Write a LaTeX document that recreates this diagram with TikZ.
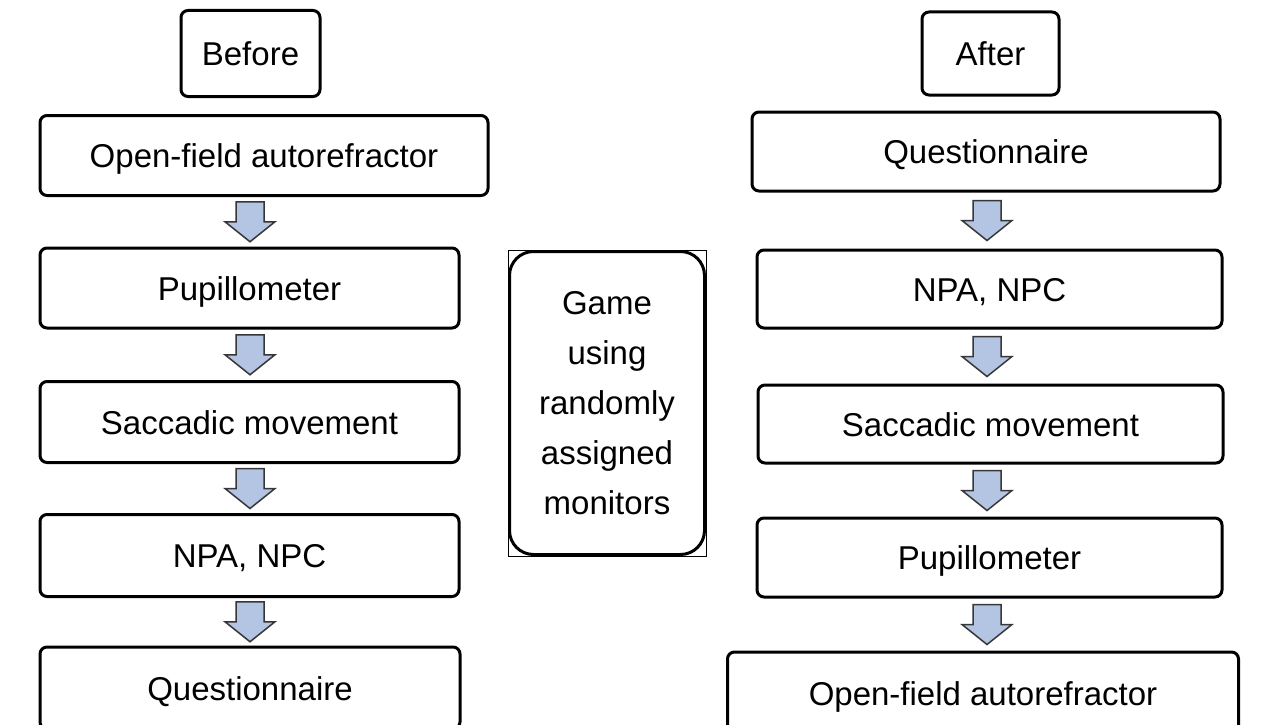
\documentclass[tikz,border=0pt]{standalone}
\usepackage{fontspec}
\setmainfont{Liberation Sans}
\usetikzlibrary{calc}
\definecolor{arrowfill}{RGB}{180,197,228}
\definecolor{arrowline}{RGB}{55,55,55}
\newcommand{\flowarrow}[3]{%
  \path (#1.south) -- (#2.north) coordinate[pos=0.5] (#1-#2-m);
  \draw[barrow, shift={(#1-#2-m -| #3)}] (-14,-20) -- (14,-20) -- (14,0) -- (25,0) -- (0,20) -- (-25,0) -- (-14,0) -- cycle;}
\begin{document}
\begin{tikzpicture}[x=1pt,y=-1pt,
  framebox/.style={draw=black, line width=3pt, rounded corners=7pt, fill=white, inner sep=0pt},
  box/.style={framebox, font=\fontsize{33}{40}\selectfont, text height=24pt, text depth=0pt},
  barrow/.style={draw=arrowline, line width=1.5pt, fill=arrowfill, line join=miter}]
\useasboundingbox (0,0) rectangle (1261,725);
\clip (0,0) rectangle (1261,725);
\coordinate (lcol) at (250,0);
\coordinate (rcol) at (987,0);
% left column
\node[box, minimum width=139pt, minimum height=86pt] (before) at (250.5,53.5) {Before};
\node[box, minimum width=448pt, minimum height=80pt] (lof) at (264,155.5) {Open-field autorefractor};
\node[box, minimum width=419pt, minimum height=80pt] (lpup) at (249.5,288) {Pupillometer};
\node[box, minimum width=419pt, minimum height=81pt] (lsac) at (249.5,422) {Saccadic movement};
\node[box, minimum width=419pt, minimum height=82pt] (lnpa) at (249.5,555.5) {NPA, NPC};
\node[box, minimum width=420pt, minimum height=82pt] (lq) at (250,688) {Questionnaire};
% right column
\node[box, minimum width=137pt, minimum height=83pt] (after) at (990.5,53.5) {After};
\node[box, minimum width=468pt, minimum height=79pt] (rq) at (986,151.5) {Questionnaire};
\node[box, minimum width=465pt, minimum height=78pt] (rnpa) at (989.5,289) {NPA, NPC};
\node[box, minimum width=465pt, minimum height=78pt] (rsac) at (990.5,424) {Saccadic movement};
\node[box, minimum width=465pt, minimum height=79pt] (rpup) at (989.5,557.5) {Pupillometer};
\node[box, minimum width=511pt, minimum height=82pt] (rof) at (983,693) {Open-field autorefractor};
% middle
\draw[line width=0.8pt] (508,250) rectangle (706,556);
\node[framebox, rounded corners=24pt, minimum width=195pt, minimum height=303pt, align=center,
  font=\fontsize{33}{50}\selectfont] (game) at (607,403) {Game\\using\\randomly\\assigned\\monitors};
% arrows
\flowarrow{lof}{lpup}{lcol}
\flowarrow{lpup}{lsac}{lcol}
\flowarrow{lsac}{lnpa}{lcol}
\flowarrow{lnpa}{lq}{lcol}
\flowarrow{rq}{rnpa}{rcol}
\flowarrow{rnpa}{rsac}{rcol}
\flowarrow{rsac}{rpup}{rcol}
\flowarrow{rpup}{rof}{rcol}
\end{tikzpicture}
\end{document}
